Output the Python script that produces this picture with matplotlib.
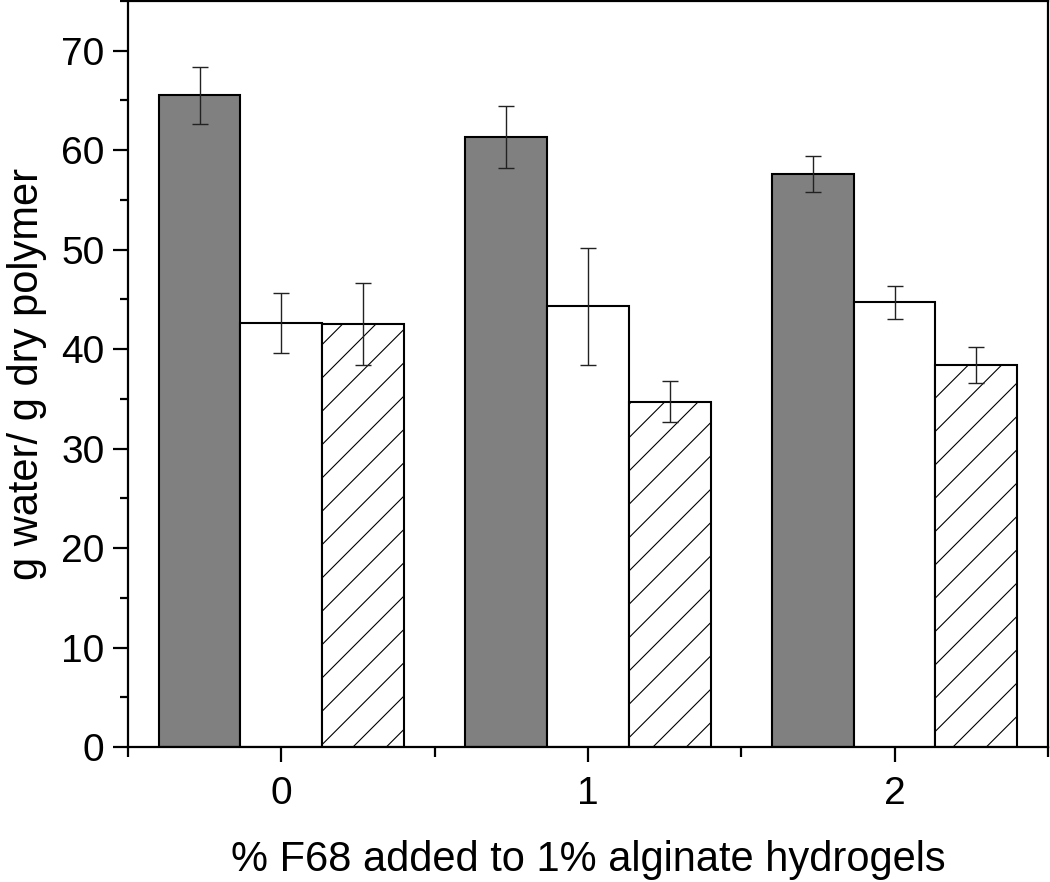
import numpy as np
import matplotlib.pyplot as plt
from matplotlib.ticker import MultipleLocator

plt.rcParams['font.family'] = ['Liberation Sans', 'DejaVu Sans']
plt.rcParams['hatch.linewidth'] = 0.8

# data
groups = ['0', '1', '2']
dark = [65.5, 61.3, 57.6]
dark_err = [2.9, 3.1, 1.8]
white = [42.6, 44.3, 44.7]
white_err = [3.0, 5.9, 1.65]
hatched = [42.5, 34.7, 38.4]
hatched_err = [4.1, 2.05, 1.8]

x = np.arange(len(groups))
w = 0.8 / 3

fig = plt.figure(figsize=(10.5, 8.82), dpi=100)
ax = fig.add_axes([0.1219, 0.153, 0.8761, 0.846])

ekw = dict(ecolor='#222222', elinewidth=1.0, capsize=5.5, capthick=1.0)
ax.bar(x - w, dark, w, yerr=dark_err, color='#808080', edgecolor='black',
       linewidth=1.5, error_kw=ekw)
ax.bar(x, white, w, yerr=white_err, color='white', edgecolor='black',
       linewidth=1.5, error_kw=ekw)
ax.bar(x + w, hatched, w, yerr=hatched_err, color='white', edgecolor='black',
       linewidth=1.5, hatch='/', error_kw=ekw)

ax.set_xlim(-0.5, 2.5)
ax.set_ylim(0, 75)
ax.set_xticks(x)
ax.set_xticklabels(groups)
ax.xaxis.set_minor_locator(MultipleLocator(0.5))
ax.yaxis.set_major_locator(MultipleLocator(10))
ax.yaxis.set_minor_locator(MultipleLocator(5))

for s in ax.spines.values():
    s.set_linewidth(1.6)
ax.tick_params(which='major', direction='out', length=11, width=1.6,
               labelsize=28, pad=6)
ax.tick_params(axis='x', which='major', pad=10)
ax.tick_params(which='minor', direction='out', length=6, width=1.6)
ax.tick_params(axis='x', which='minor', length=7)

ax.set_xlabel('% F68 added to 1% alginate hydrogels', fontsize=30, labelpad=20)
ax.set_ylabel('g water/ g dry polymer', fontsize=30, labelpad=10)

plt.savefig('out.png', dpi=100)
